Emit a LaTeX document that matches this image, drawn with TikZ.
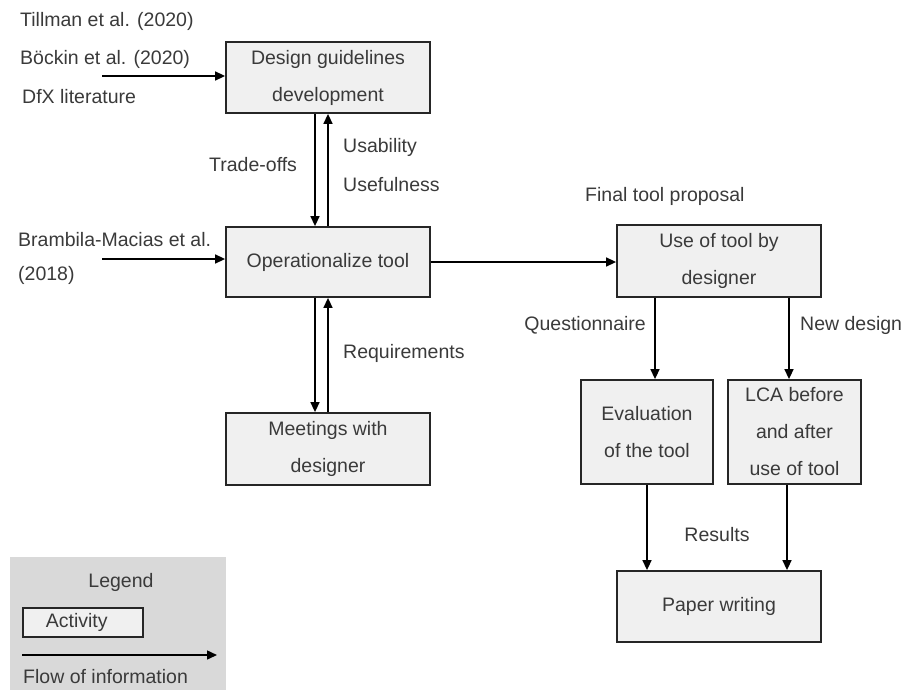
\documentclass[tikz,border=0pt]{standalone}
\usepackage{fontspec}
\setmainfont{Liberation Sans}
\usetikzlibrary{arrows.meta}
\definecolor{txt}{HTML}{3A3A3A}
\definecolor{boxfill}{HTML}{F0F0F0}
\definecolor{legbg}{HTML}{D9D9D9}
\begin{document}
\begin{tikzpicture}[x=1pt,y=-1pt,
  every node/.style={text=txt,font=\fontsize{19.5}{37}\selectfont},
  activity/.style={draw=black!85,line width=1.8pt,fill=boxfill,inner sep=0pt,align=center},
  lbl/.style={inner sep=0pt,anchor=west},
  arr/.style={line width=1.5pt,draw=black,-{Triangle[length=10pt,width=9pt]}}]
\useasboundingbox (0,0) rectangle (907,690);
% legend background
\node[fill=legbg,inner sep=0pt,minimum width=216pt,minimum height=134pt,anchor=north west] (legbg) at (10,557) {};
\node[inner sep=0pt] (legtitle) at (121,582) {Legend};
\node[activity,minimum width=120pt,minimum height=29pt,anchor=north west,line width=1.5pt] (legact) at (22,607) {\hspace*{-12pt}Activity};
\coordinate (legA) at (22,655);
\coordinate (legB) at (217,655);
\draw[arr] (legA) -- (legB);
\node[lbl] (legflow) at (23,677) {Flow of information};

% activities
\node[activity,minimum width=204pt,minimum height=71pt] (des) at (328,77.5) {Design guidelines\\development};
\node[activity,minimum width=204pt,minimum height=70pt] (op) at (328,262) {Operationalize tool};
\node[activity,minimum width=204pt,minimum height=72pt] (meet) at (328,449) {Meetings with\\designer};
\node[activity,minimum width=204pt,minimum height=72pt] (use) at (719,261) {Use of tool by\\designer};
\node[activity,minimum width=132pt,minimum height=104pt] (eval) at (647,432) {Evaluation\\of the tool};
\node[activity,minimum width=133pt,minimum height=104pt] (lca) at (794.5,432) {LCA before\\and after\\use of tool};
\node[activity,minimum width=204pt,minimum height=71pt] (paper) at (719,606.5) {Paper writing};

% input labels
\node[lbl] (till) at (20,21) {Tillman et al. (2020)};
\node[lbl] (boeck) at (20,59) {Böckin et al. (2020)};
\node[lbl] (dfx) at (22,97) {DfX literature};
\coordinate (inA) at (102,76);
\draw[arr] (inA) -- (inA -| des.west);

\node[lbl] (bram) at (18,240) {Brambila-Macias et al.};
\node[lbl] (bram2) at (18,275) {(2018)};
\coordinate (inB) at (102,259);
\draw[arr] (inB) -- (inB -| op.west);

% vertical exchanges
\coordinate (dnx) at (315,0);
\coordinate (upx) at (328,0);
\draw[arr] (des.south -| dnx) -- (op.north -| dnx);
\draw[arr] (op.north -| upx) -- (des.south -| upx);
\draw[arr] (op.south -| dnx) -- (meet.north -| dnx);
\draw[arr] (meet.north -| upx) -- (op.south -| upx);

\node[lbl] (trade) at (209,165) {Trade-offs};
\node[lbl] (usab) at (343,147) {Usability};
\node[lbl] (usef) at (343,185) {Usefulness};
\node[lbl] (req) at (343,353) {Requirements};

% to use of tool
\draw[arr] (op.east) -- (op.east -| use.west);
\node[lbl] (final) at (585,196) {Final tool proposal};

\coordinate (qx) at (655,0);
\coordinate (nx) at (789,0);
\draw[arr] (use.south -| qx) -- (eval.north -| qx);
\draw[arr] (use.south -| nx) -- (lca.north -| nx);
\node[inner sep=0pt,anchor=east] (quest) at (646,325) {Questionnaire};
\node[lbl] (newd) at (800,325) {New design};

\coordinate (ex) at (647,0);
\coordinate (lx) at (787,0);
\draw[arr] (eval.south -| ex) -- (paper.north -| ex);
\draw[arr] (lca.south -| lx) -- (paper.north -| lx);
\node[inner sep=0pt] (res) at (717,535) {Results};
\end{tikzpicture}
\end{document}
